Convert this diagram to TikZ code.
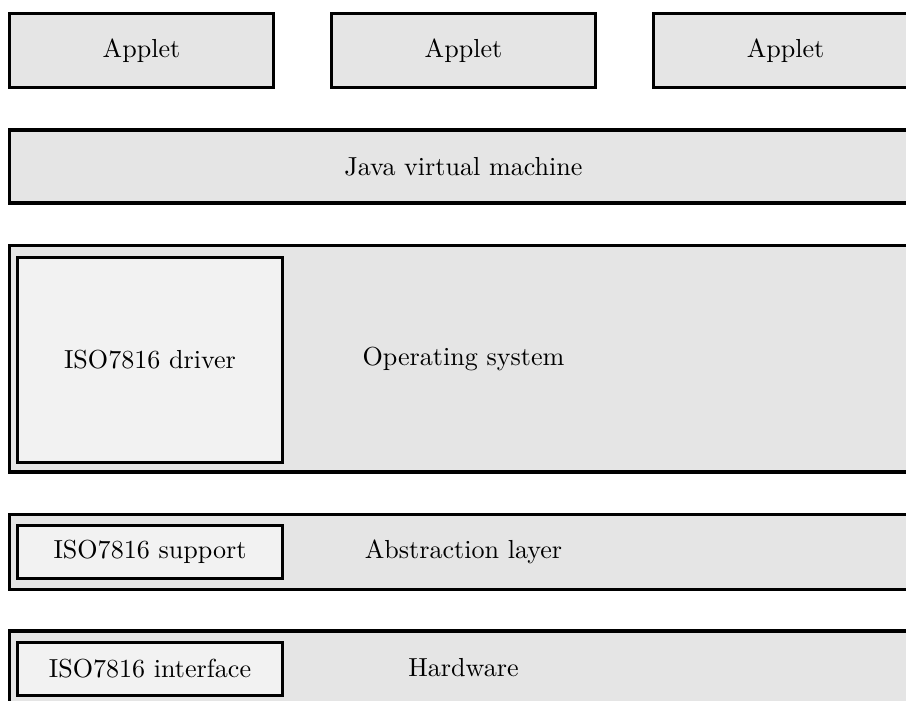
\documentclass[tikz,border=0pt]{standalone}
\usetikzlibrary{fit}
\definecolor{layerfill}{HTML}{E5E5E5}
\definecolor{partfill}{HTML}{F2F2F2}
\tikzset{
  layerbox/.style={draw=black, line width=1.3pt, fill=layerfill, inner sep=0pt},
  partbox/.style={draw=black, line width=1.3pt, fill=partfill, inner sep=0pt},
  boxlabel/.style={inner sep=0pt, anchor=center}
}
\begin{document}
\begin{tikzpicture}[x=0.3835pt, y=-0.3835pt]
  \useasboundingbox (0,0) rectangle (906,700);
  \clip (0,0) rectangle (906,700);
  % applets
  \node[layerbox, fit={(9.5,13.5) (273.5,87.5)}] (applet1) {};
  \node[layerbox, fit={(331.5,13.5) (595.5,87.5)}] (applet2) {};
  \node[layerbox, fit={(653.5,13.5) (917.5,87.5)}] (applet3) {};
  \node[boxlabel] (applet1text) at (applet1.center) {Applet};
  \node[boxlabel] (applet2text) at (applet2.center) {Applet};
  \node[boxlabel] (applet3text) at (applet3.center) {Applet};
  % virtual machine
  \node[layerbox, fit={(9.5,130) (917.5,203)}] (jvm) {};
  \node[boxlabel] (jvmtext) at (jvm.center) {Java virtual machine};
  % operating system with driver
  \node[layerbox, fit={(9.5,245.5) (917.5,472)}] (os) {};
  \node[boxlabel] (ostext) at (os.center) {Operating system};
  \node[partbox, fit={(17.5,257.5) (282.5,462.5)}] (driver) {};
  \node[boxlabel] (drivertext) at (driver.center) {ISO7816 driver};
  % abstraction layer with support
  \node[layerbox, fit={(9.5,514.5) (917.5,589.5)}] (hal) {};
  \node[boxlabel] (haltext) at (hal.center) {Abstraction layer};
  \node[partbox, fit={(17.5,525.5) (282.5,578.5)}] (support) {};
  \node[boxlabel] (supporttext) at (support.center) {ISO7816 support};
  % hardware with interface
  \node[layerbox, fit={(9.5,631) (917.5,705)}] (hw) {};
  \node[boxlabel] (hwtext) at (hw.center) {Hardware};
  \node[partbox, fit={(17.5,642.5) (282.5,695.5)}] (iface) {};
  \node[boxlabel] (ifacetext) at (iface.center) {ISO7816 interface};
\end{tikzpicture}
\end{document}
